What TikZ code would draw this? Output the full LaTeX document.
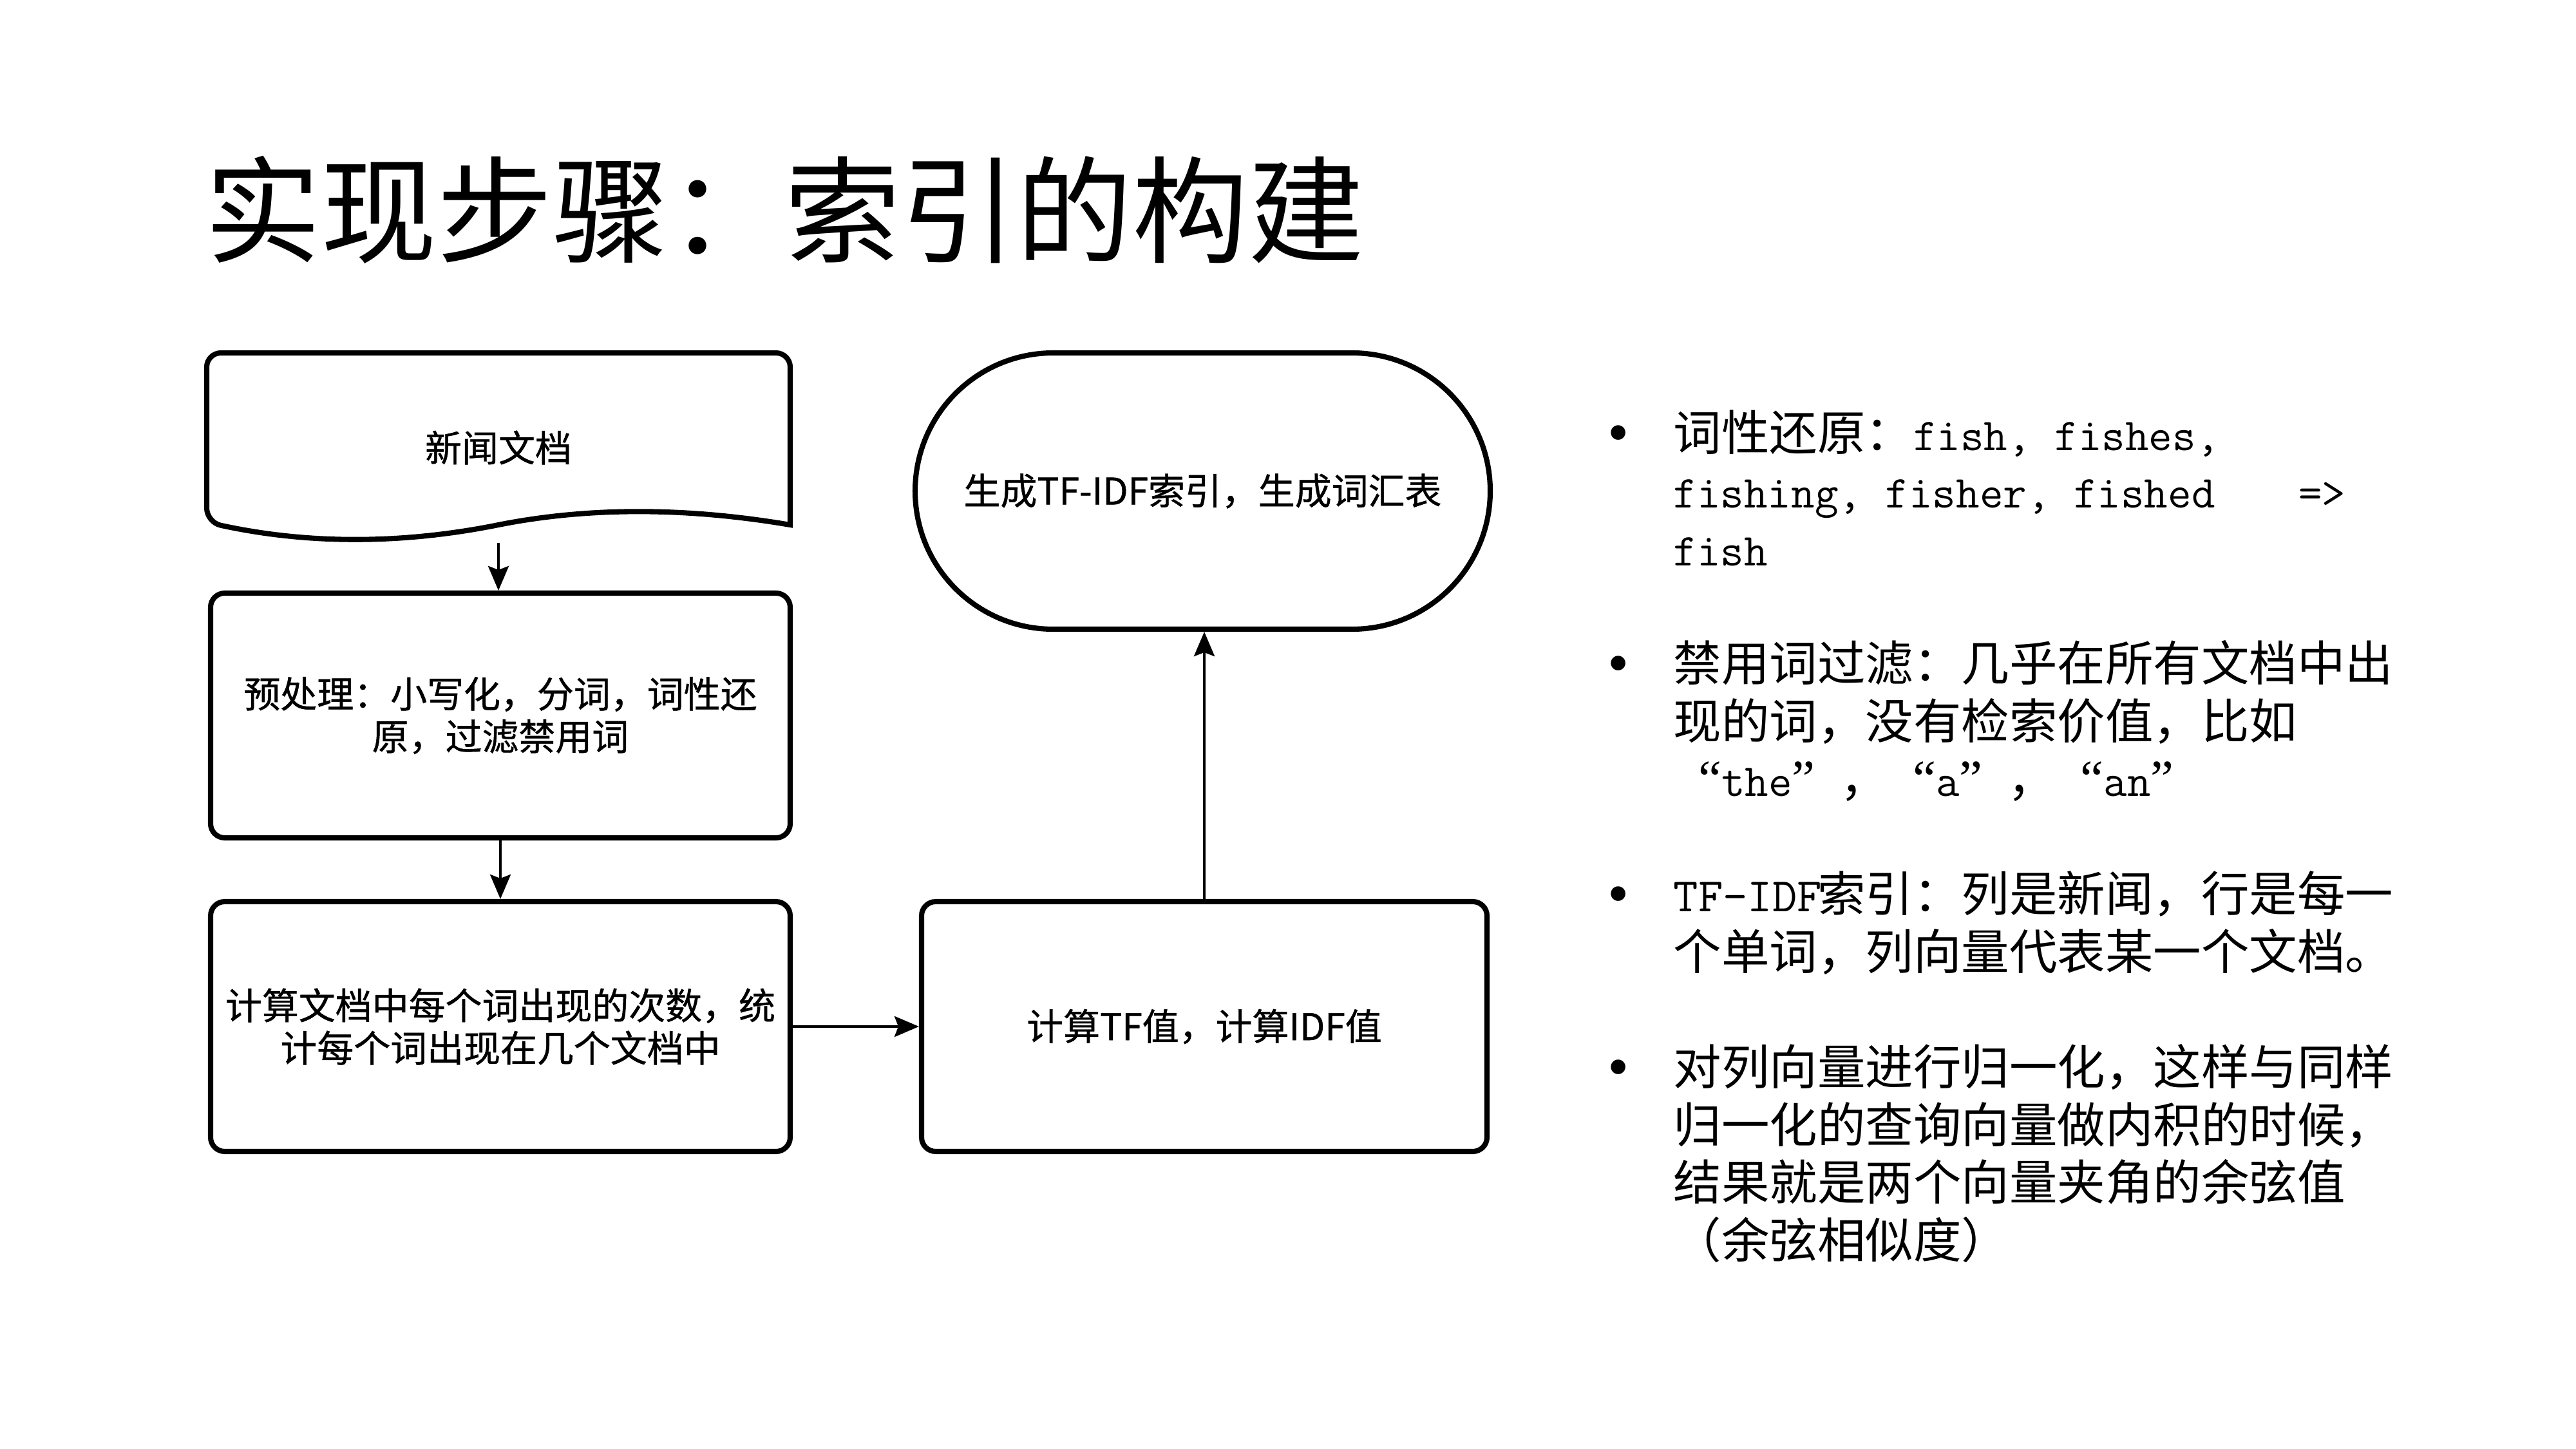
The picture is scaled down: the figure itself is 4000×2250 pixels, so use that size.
\documentclass[tikz,border=0pt]{standalone}
\usepackage{fontspec}
\setmainfont{Liberation Serif}
\newfontfamily\cjk{Noto Sans CJK SC}
\newfontfamily\cjkb[FakeBold=0.8]{Noto Sans CJK SC}
\newfontfamily\lserif{Liberation Serif}
\usetikzlibrary{arrows.meta,shapes.misc}
\newcommand{\titlefont}{\cjk\fontsize{51.2pt}{60pt}\selectfont}
\newcommand{\flowfont}{\cjkb\fontsize{16.2pt}{18.8pt}\selectfont}
\newcommand{\zh}{\cjk\fontsize{21.2pt}{25.5pt}\selectfont}
\newcommand{\en}{\ttfamily\fontsize{20.2pt}{25.5pt}\selectfont}
\newcommand{\bulfont}{\lserif\fontsize{27pt}{30pt}\selectfont}
\newcommand{\oq}{\makebox[7.45mm][r]{\lserif\fontsize{23pt}{25pt}\selectfont “}}
\newcommand{\cq}{\makebox[7.45mm][l]{\lserif\fontsize{23pt}{25pt}\selectfont ”}}
\tikzset{
  boxline/.style={draw=black, line width=2.3pt},
  flowbox/.style={boxline, rectangle, rounded corners=2.2mm, inner sep=0pt, align=center, font=\flowfont},
  arr/.style={line width=1.2pt, -{Stealth[length=3.8mm,width=3.2mm,inset=0.6mm]}},
  zhline/.style={anchor=base west, inner sep=0pt, font=\zh},
  bul/.style={anchor=base, inner sep=0pt, font=\bulfont},
}
\begin{document}
\begin{tikzpicture}[x=0.1mm,y=-0.1mm]
\useasboundingbox (0,0) rectangle (4000,2250);
\fill[white] (0,0) rectangle (4000,2250);

% title
\node[anchor=west, inner sep=0pt, font=\titlefont] (title) at (318,326) {实现步骤：索引的构建};

% box 1: document shape
\draw[boxline] (1227,815) [rounded corners=2.2mm] -- (1227,548) -- (321,548) -- (321,811) [sharp corners]
  .. controls (500,850) and (650,840) .. (774,815)
  .. controls (900,790) and (1050,785) .. (1227,815) -- cycle;
\node[inner sep=0pt, minimum width=90.6mm, minimum height=29.4mm, font=\flowfont] (b1) at (774,695) {新闻文档};

% other boxes
\node[flowbox, minimum width=90mm, minimum height=38mm] (b2) at (777,1111)
  {预处理：小写化，分词，词性还\\原，过滤禁用词};
\node[flowbox, minimum width=90mm, minimum height=38.8mm] (b3) at (777,1594)
  {计算文档中每个词出现的次数，统\\计每个词出现在几个文档中};
\node[flowbox, minimum width=87.8mm, minimum height=38.8mm] (b4) at (1870,1594)
  {计算TF值，计算IDF值};
\node[boxline, rounded rectangle, minimum width=89.3mm, minimum height=42.9mm, inner sep=0pt, font=\flowfont] (e) at (1867.5,762.5)
  {生成TF-IDF索引，生成词汇表};

% connectors
\draw[arr] (b1.south) -- (b1.south |- b2.north);
\draw[arr] (b2.south) -- (b3.north);
\draw[arr] (b3.east) -- (b4.west);
\draw[arr] (b4.north) -- (b4.north |- e.south);

% bullets
\node[bul] (d1) at (2513,703) {•};
\node[zhline] (t11) at (2598,699) {词性还原：{\en fish, fishes,}};
\node[zhline] (t12) at (2598,788.6) {{\en fishing, fisher, fished\ \ \ \hspace{2mm}=>}};
\node[zhline] (t13) at (2598,878.2) {{\en fish}};

\node[bul] (d2) at (2513,1061.4) {•};
\node[zhline] (t21) at (2598,1057.4) {禁用词过滤：几乎在所有文档中出};
\node[zhline] (t22) at (2598,1147) {现的词，没有检索价值，比如};
\node[zhline] (t23) at (2598,1236.6) {\oq{\en the}\cq，\oq{\en a}\cq，\oq{\en an}\cq};

\node[bul] (d3) at (2513,1419.8) {•};
\node[zhline] (t31) at (2598,1415.8) {{\en\fontsize{21.2pt}{25pt}\selectfont\makebox[22.35mm][l]{TF-IDF}}索引：列是新闻，行是每一};
\node[zhline] (t32) at (2598,1505.4) {个单词，列向量代表某一个文档。};

\node[bul] (d4) at (2513,1688.6) {•};
\node[zhline] (t41) at (2598,1684.6) {对列向量进行归一化，这样与同样};
\node[zhline] (t42) at (2598,1774.2) {归一化的查询向量做内积的时候，};
\node[zhline] (t43) at (2598,1863.8) {结果就是两个向量夹角的余弦值};
\node[zhline] (t44) at (2598,1953.4) {（余弦相似度）};
\end{tikzpicture}
\end{document}
